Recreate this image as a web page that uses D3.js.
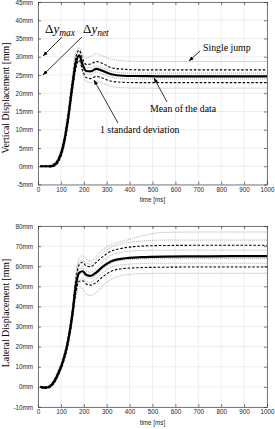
<!DOCTYPE html>
<html><head><meta charset="utf-8">
<script src="https://cdn.jsdelivr.net/npm/d3@7"></script>
<style>body{margin:0;background:#fff}svg{display:block}</style>
</head><body>
<svg id="c" width="275" height="429"></svg>
<script>
// ---- data (time in ms, displacement in mm) ----
const T = [10,30,50,70,90,110,130,150,165,180,195,210,230,255,280,320,370,450,550,700,850,1000];
const xTicks = [0,100,200,300,400,500,600,700,800,900,1000];
const vTicks = [-5,0,5,10,15,20,25,30,35,40,45];
const lTicks = [-10,0,10,20,30,40,50,60,70,80];

const vMean  = [0,0,0,0.3,1.8,5.5,12.5,22,28.3,30.4,27.8,26.1,26.0,26.7,26.2,25.2,24.8,24.7,24.6,24.6,24.6,24.6];
const vUpper = [0.1,0.1,0.2,0.6,2.3,6.3,13.6,23.3,29.8,31.8,29.4,27.9,28.0,28.7,28.2,27.0,26.6,26.4,26.4,26.4,26.4,26.4];
const vLower = [-0.1,-0.1,-0.2,0.0,1.3,4.7,11.4,20.7,26.8,29.0,26.2,24.3,24.0,24.6,24.2,23.3,23.0,22.9,22.9,22.9,22.9,22.9];
const vJump1 = [0,0.1,0.3,0.9,2.8,7.2,15,24.8,31.2,32.4,30.6,29.6,30.1,30.8,30.3,29.3,28.9,28.7,28.7,28.7,28.7,28.7];
const vJump2 = [0,0,0.1,0.5,2.2,6.2,13.8,23.6,30.0,31.3,28.8,27.2,27.0,27.5,27.0,26.0,25.6,25.5,25.5,25.5,25.5,25.5];
const vJump3 = [0,0,0,0.2,1.5,5.0,11.8,21.2,27.6,29.8,27.0,25.3,25.2,25.8,25.3,24.4,24.0,23.9,23.9,23.9,23.9,23.9];
const vJump4 = [0,-0.1,-0.2,-0.1,1.0,4.2,10.8,20.0,26.5,29.0,25.5,23.2,22.9,23.3,22.8,21.9,21.5,21.4,21.4,21.4,21.4,21.4];

const lMean  = [0,-0.4,0.1,2.5,7,13,22,36,50,56.8,57.5,55.8,55.2,57,59.5,62.5,63.8,64.5,64.8,64.9,65,65];
const lUpper = [0.2,0,0.6,3.3,7.8,14,23.5,38,53,60.8,62,60.2,59.8,62,64.5,67.5,69,70,70.3,70.4,70.4,70.4];
const lLower = [-0.2,-0.8,-0.4,1.7,6.2,12,20.5,34,46.5,52.5,52.8,51.2,50.6,52,54.5,57.5,58.8,59.3,59.5,59.6,59.6,59.6];
const lJump1 = [0,0,0.8,4,9,15.5,25,40,56,63.8,65.2,63.5,62.5,65,68,70.8,72.4,75,76.8,77,77,77];
const lJump2 = [0,-0.2,0.5,3.5,8.5,14.5,24,39,54,62,63,61.5,61,63.5,66.5,69.5,71.3,72.5,73,73,73,73];
const lJump3 = [0,-0.3,0.3,2.9,7.5,13.5,23,37,51,58.5,59,57.5,57,59,62,65.5,67,67.8,68,68,68,68];
const lJump4 = [0,-0.5,0,2.3,6.8,12.8,21.5,35.5,49,56,56.5,54.5,54,56,58.5,61.5,63,63.6,63.8,63.8,63.8,63.8];
const lJump5 = [0,-0.6,-0.2,2,6.3,12,20.8,34.5,47.5,53,54,52.5,52,54,56.5,59.5,60.8,61.3,61.5,61.5,61.5,61.5];
const lJump6 = [0,-0.8,-0.5,1.5,5.5,11,19.5,32.5,44,50,48.5,46.3,45.5,47,50,53.5,55.5,56.3,56.5,56.5,56.5,56.5];

// ---- drawing ----
const svg = d3.select("#c");
const defs = svg.append("defs");
defs.append("marker").attr("id","ah").attr("viewBox","0 0 10 10").attr("refX",10).attr("refY",5)
  .attr("markerWidth",6).attr("markerHeight",6).attr("orient","auto")
  .append("path").attr("d","M0,1 L10,5 L0,9 Z").attr("fill","#000");

const SANS = "'Liberation Sans', Arial, sans-serif";
const SERIF = "'Liberation Serif', 'Times New Roman', serif";

function panel(cfg){
  const x = d3.scaleLinear().domain([0,1000]).range([38,267]);
  const y = d3.scaleLinear().domain(cfg.domain).range(cfg.range);
  const g = svg.append("g");
  const [y0,y1] = cfg.range;
  g.append("g").selectAll("line").data(xTicks).join("line")
    .attr("x1",d=>x(d)).attr("x2",d=>x(d)).attr("y1",y1).attr("y2",y0)
    .attr("stroke","#e3e3e3").attr("stroke-width",0.6);
  g.append("g").selectAll("line").data(cfg.ticks).join("line")
    .attr("y1",d=>y(d)).attr("y2",d=>y(d)).attr("x1",38).attr("x2",267)
    .attr("stroke","#e3e3e3").attr("stroke-width",0.6);
  const line = d3.line().x((d,i)=>x(T[i])).y(d=>y(d)).curve(d3.curveMonotoneX);
  cfg.jumps.forEach(s=>g.append("path").attr("d",line(s)).attr("fill","none")
    .attr("stroke","#9a9a9a").attr("stroke-width",0.8).attr("stroke-dasharray","1,1"));
  [cfg.upper,cfg.lower].forEach(s=>g.append("path").attr("d",line(s)).attr("fill","none")
    .attr("stroke","#000").attr("stroke-width",1.1).attr("stroke-dasharray","2.5,1.8"));
  g.append("path").attr("d",line(cfg.mean)).attr("fill","none")
    .attr("stroke","#000").attr("stroke-width",2.2);
  const ax = g.append("g").attr("transform",`translate(0,${y0})`)
    .call(d3.axisBottom(x).tickValues(xTicks).tickSizeInner(-3).tickSizeOuter(0).tickPadding(3).tickFormat(d3.format("d")));
  const axT = g.append("g").attr("transform",`translate(0,${y1})`)
    .call(d3.axisTop(x).tickValues(xTicks).tickSizeInner(-3).tickSizeOuter(0).tickFormat(""));
  const ay = g.append("g").attr("transform","translate(38,0)")
    .call(d3.axisLeft(y).tickValues(cfg.ticks).tickSizeInner(-3).tickSizeOuter(0).tickPadding(5).tickFormat(d=>d+"mm"));
  const ayR = g.append("g").attr("transform","translate(267,0)")
    .call(d3.axisRight(y).tickValues(cfg.ticks).tickSizeInner(-3).tickSizeOuter(0).tickFormat(""));
  [ax,axT,ay,ayR].forEach(a=>{
    a.select(".domain").attr("stroke","#262626").attr("stroke-width",0.6);
    a.selectAll(".tick line").attr("stroke","#262626").attr("stroke-width",0.6);
    a.selectAll("text").attr("font-family",SANS).attr("font-size",6.3).attr("fill","#262626");
  });
  g.append("text").attr("x",152.5).attr("y",cfg.xlabY).attr("text-anchor","middle")
    .attr("font-family",SANS).attr("font-size",6.3).attr("fill","#262626").text("time [ms]");
  g.append("text").attr("transform",`translate(9,${cfg.ylabC}) rotate(-90)`).attr("text-anchor","middle")
    .attr("font-family",SERIF).attr("font-size",9.8).attr("fill","#000").text(cfg.ylab);
  return {x,y,g};
}

const topPanel = panel({domain:[-5,45], range:[184.5,2], ticks:vTicks, mean:vMean, upper:vUpper, lower:vLower,
  jumps:[vJump1,vJump2,vJump3,vJump4], ylab:"Vertical Displacement [mm]", ylabC:98, xlabY:202});
const botPanel = panel({domain:[-10,80], range:[407,226], ticks:lTicks, mean:lMean, upper:lUpper, lower:lLower,
  jumps:[lJump1,lJump2,lJump3,lJump4,lJump5,lJump6], ylab:"Lateral Displacement [mm]", ylabC:313, xlabY:425});

// ---- annotations (top panel) ----
const ag = topPanel.g;
function delta(xp, yp, sub){
  const t = ag.append("text").attr("x",xp).attr("y",yp).attr("font-family",SERIF).attr("font-size",13);
  t.append("tspan").text("Δ");
  t.append("tspan").attr("font-style","italic").text("y");
  t.append("tspan").attr("font-style","italic").attr("font-size",9.5).attr("dy",2.5).text(sub);
}
delta(45,33,"max");
delta(83,33,"net");
function arrow(x1,y1,x2,y2){
  ag.append("line").attr("x1",x1).attr("y1",y1).attr("x2",x2).attr("y2",y2)
    .attr("stroke","#000").attr("stroke-width",0.8).attr("marker-end","url(#ah)");
}
arrow(62,37,43,56);
arrow(82,37,43,75);
arrow(200,51,189,61);
arrow(167,102,154,78);
arrow(118,123,94,80);
function note(xp,yp,s){
  ag.append("text").attr("x",xp).attr("y",yp).attr("font-family",SERIF).attr("font-size",9.8).text(s);
}
note(203,51,"Single jump");
note(150,112,"Mean of the data");
note(100,133,"1 standard deviation");
</script>
</body></html>
